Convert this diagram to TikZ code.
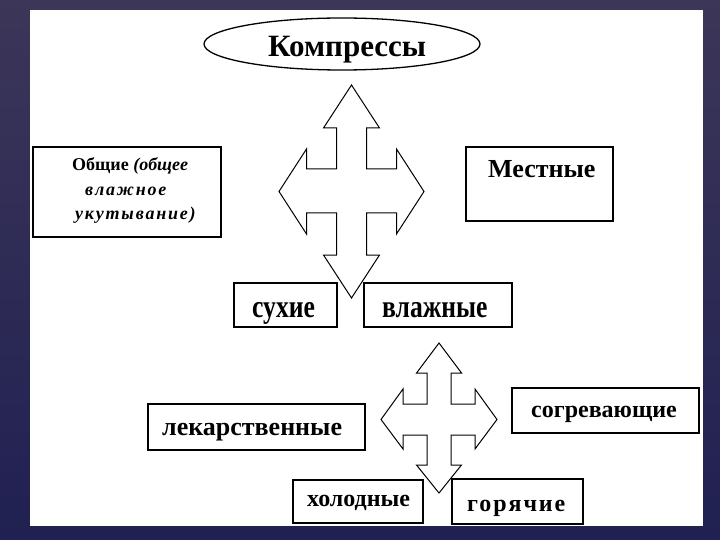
\documentclass[tikz,border=0pt]{standalone}
\usepackage{fontspec}
\setmainfont{Liberation Serif}
\usepackage{graphicx}
\usetikzlibrary{shapes.geometric}
\definecolor{bgtop}{RGB}{60,54,88}
\definecolor{bgbot}{RGB}{32,32,82}
\begin{document}
\begin{tikzpicture}[x=1pt,y=-1pt,
  boxshape/.style={draw=black, line width=1.3pt, fill=white, rectangle, inner sep=0pt},
  arrowshape/.style={draw=black, line width=1pt, fill=white, line join=miter},
  lbl/.style={inner sep=0pt, text=black, anchor=base west},
  fa/.style={font=\fontsize{31}{31}\selectfont\bfseries},
  fb/.style={font=\fontsize{32}{32}\selectfont\bfseries},
  fc/.style={font=\fontsize{26}{26}\selectfont\bfseries},
  fd/.style={font=\fontsize{24}{24}\selectfont\bfseries},
  fe/.style={font=\fontsize{18}{24.5}\selectfont\bfseries}]
\useasboundingbox (0,0) rectangle (720,540);
\shade[top color=bgtop, bottom color=bgbot] (0,0) rectangle (720,540);
\fill[white] (30,10) rectangle (703,526);

% title ellipse
\node[ellipse, draw=black, line width=1.3pt, minimum width=276pt, minimum height=52pt, inner sep=0pt] (komp) at (342,44) {};
\node[lbl, fa] (kompt) at (268,57) {Компрессы};

% upper four-way arrow
\draw[arrowshape] (351.5,85) -- (379.5,128) -- (366.5,128) -- (366.5,169) -- (396.5,169)
  -- (396.5,149) -- (424,191.5) -- (396.5,234) -- (396.5,213) -- (366.5,213) -- (366.5,255)
  -- (379.5,255) -- (351.5,298) -- (323.5,255) -- (336.5,255) -- (336.5,213) -- (306.5,213)
  -- (306.5,234) -- (279,191.5) -- (306.5,149) -- (306.5,169) -- (336.5,169) -- (336.5,128)
  -- (323.5,128) -- cycle;

% lower four-way arrow
\draw[arrowshape] (439,343) -- (461.5,373) -- (451,373) -- (451,404) -- (475,404)
  -- (475,389) -- (497,419.5) -- (475,449) -- (475,435) -- (451,435) -- (451,465)
  -- (461.5,465) -- (439,493) -- (416.5,465) -- (427,465) -- (427,435) -- (403,435)
  -- (403,449) -- (381,419.5) -- (403,389) -- (403,404) -- (427,404) -- (427,373)
  -- (416.5,373) -- cycle;

% boxes
\node[boxshape, minimum width=188pt, minimum height=90pt] (obsch) at (127,192) {};
\node[boxshape, minimum width=147pt, minimum height=74pt] (mest) at (539.5,184) {};
\node[boxshape, minimum width=103pt, minimum height=44pt] (suh) at (285.5,305) {};
\node[boxshape, minimum width=148pt, minimum height=44pt] (vlazh) at (438,305) {};
\node[boxshape, minimum width=217pt, minimum height=46pt] (lek) at (256.5,427) {};
\node[boxshape, minimum width=187pt, minimum height=45pt] (sogr) at (605.5,410.5) {};
\node[boxshape, minimum width=130pt, minimum height=43pt] (hol) at (358,501.5) {};
\node[boxshape, minimum width=131pt, minimum height=45pt] (gor) at (517.5,501.5) {};

% texts
\node[lbl, fe, align=left] (obscht) at (72,220) {Общие \textit{(общее}\\
  \hspace*{13pt}{\itshape\addfontfeature{LetterSpace=10}влажное}\\
  \hspace*{3pt}{\itshape\addfontfeature{LetterSpace=10}укутывание)}};
\node[lbl, fc] (mestt) at (488,178) {Местные};
\node[lbl, fb] (suht) at (252,317) {\scalebox{0.8}[1]{сухие}};
\node[lbl, fb] (vlazht) at (382,317) {\scalebox{0.8}[1]{влажные}};
\node[lbl, fc] (lekt) at (162,435) {лекарственные};
\node[lbl, fd] (sogrt) at (531,417) {согревающие};
\node[lbl, fd] (holt) at (307,506) {холодные};
\node[lbl, fd] (gort) at (467,511) {{\addfontfeature{LetterSpace=8}горячие}};
\end{tikzpicture}
\end{document}
